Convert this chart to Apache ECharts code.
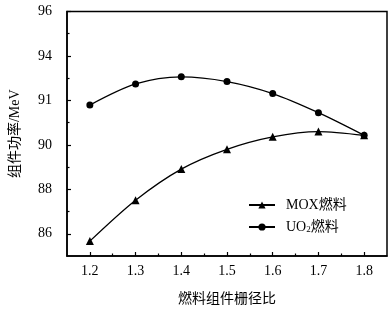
<!DOCTYPE html>
<html>
<head>
<meta charset="utf-8">
<script src="https://cdn.jsdelivr.net/npm/echarts@6/dist/echarts.min.js"></script>
<style>html,body{margin:0;padding:0;background:#fff;}#c{width:391px;height:311px;}</style>
</head>
<body>
<div id="c"></div>
<script>
var ratios = [1.2, 1.3, 1.4, 1.5, 1.6, 1.7, 1.8];
var moxValues = [85.67, 87.51, 88.91, 89.8, 90.36, 90.6, 90.43];
var uo2Values = [91.79, 92.74, 93.06, 92.85, 92.31, 91.45, 90.43];
var xTickValues = [1.2, 1.3, 1.4, 1.5, 1.6, 1.7, 1.8];
var xMinorTicks = [1.25, 1.35, 1.45, 1.55, 1.65, 1.75];
var yTickValues = [86, 88, 90, 92, 94, 96];
var yTickLabels = ['86', '88', '90', '91', '94', '96'];
var yMinorTicks = [87, 89, 91, 93, 95];

var FONT = '"Liberation Serif", "Noto Sans CJK SC", serif';
function pairs(xs, ys) { return xs.map(function (x, i) { return [x, ys[i]]; }); }

var chart = echarts.init(document.getElementById('c'), null, {renderer: 'canvas'});
var axisLineStyle = {color: '#000', width: 1.5};
chart.setOption({
  animation: false,
  backgroundColor: '#fff',
  grid: {left: 64, right: 4, top: 11.5, bottom: 52.5, show: true, borderColor: '#000', borderWidth: 1.5, backgroundColor: 'transparent'},
  xAxis: [{
    type: 'value', min: 1.15, max: 1.85,
    name: '燃料组件栅径比', nameLocation: 'middle', nameGap: 36,
    nameTextStyle: {fontFamily: FONT, fontSize: 14, color: '#000'},
    axisLine: {lineStyle: axisLineStyle},
    axisTick: {inside: true, length: 4, lineStyle: {color: '#000', width: 1.2}, customValues: xTickValues},
    axisLabel: {fontFamily: FONT, fontSize: 14, color: '#000', margin: 8, customValues: xTickValues,
      formatter: function (v) { return v.toFixed(1); }},
    splitLine: {show: false}
  }, {
    type: 'value', min: 1.15, max: 1.85, position: 'bottom',
    axisLine: {show: false},
    axisTick: {inside: true, length: 2.5, lineStyle: {color: '#000', width: 1.2}, customValues: xMinorTicks},
    axisLabel: {show: false},
    splitLine: {show: false}
  }],
  yAxis: [{
    type: 'value', min: 85, max: 96,
    name: '组件功率/MeV', nameLocation: 'middle', nameGap: 45,
    nameTextStyle: {fontFamily: FONT, fontSize: 14, color: '#000'},
    axisLine: {show: true, lineStyle: axisLineStyle},
    axisTick: {show: true, inside: true, length: 4, lineStyle: {color: '#000', width: 1.2}, customValues: yTickValues},
    axisLabel: {fontFamily: FONT, fontSize: 14, color: '#000', margin: 15, customValues: yTickValues,
      formatter: function (v) { var i = yTickValues.indexOf(v); return i >= 0 ? yTickLabels[i] : ''; }},
    splitLine: {show: false}
  }, {
    type: 'value', min: 85, max: 96, position: 'left',
    axisLine: {show: false},
    axisTick: {show: true, inside: true, length: 2.5, lineStyle: {color: '#000', width: 1.2}, customValues: yMinorTicks},
    axisLabel: {show: false},
    splitLine: {show: false}
  }],
  legend: {
    orient: 'vertical', left: 243, top: 193, itemGap: 8, itemWidth: 26, itemHeight: 9,
    textStyle: {fontFamily: FONT, fontSize: 14, color: '#000', padding: [0, 0, 0, 6],
      rich: {sub: {fontFamily: FONT, fontSize: 9, color: '#000', verticalAlign: 'bottom', padding: [6, 0, 0, 0]}}},
    formatter: function (name) { return name === 'UO2燃料' ? 'UO{sub|2}燃料' : name; },
    data: ['MOX燃料', 'UO2燃料']
  },
  series: [{
    name: 'MOX燃料', type: 'line', smooth: 0.3,
    data: pairs(ratios, moxValues),
    symbol: 'triangle', symbolSize: 8,
    lineStyle: {color: '#000', width: 1.3},
    itemStyle: {color: '#000'}
  }, {
    name: 'UO2燃料', type: 'line', smooth: 0.3,
    data: pairs(ratios, uo2Values),
    symbol: 'circle', symbolSize: 7,
    lineStyle: {color: '#000', width: 1.3},
    itemStyle: {color: '#000'}
  }]
});
</script>
</body>
</html>
